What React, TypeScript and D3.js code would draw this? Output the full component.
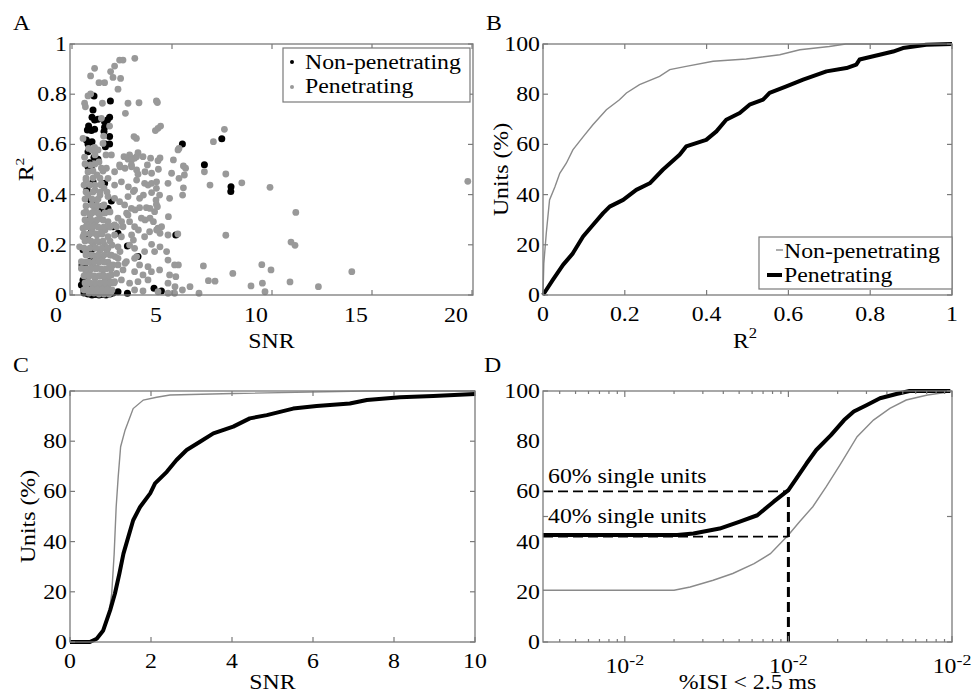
import React from "react";
import * as d3 from "d3";

const FONT = "'Liberation Serif','Times New Roman',Times,serif";
const AX = "#7a7a7a";
const GRAY_PT = "#999999";
const GRAY_LN = "#8a8a8a";

// ---------- Panel A: scatter (SNR, R^2) ----------
const nonPenScatter: [number, number][] = [
  [1.10,.793],[1.92,.773],[1.05,.737],[1.00,.708],[1.13,.697],[1.30,.700],[1.63,.690],[1.77,.697],[1.88,.708],
  [0.83,.673],[0.77,.657],[0.97,.655],[1.13,.660],[1.63,.668],[1.60,.651],[1.88,.631],[0.72,.618],[0.80,.602],
  [1.00,.611],[1.67,.602],[1.88,.602],[1.67,.591],[0.80,.571],[1.10,.549],[1.30,.541],[0.88,.527],[0.80,.511],
  [0.97,.505],[1.05,.451],[1.63,.445],[0.93,.378],[1.05,.365],[1.47,.352],[1.80,.345],[1.97,.375],[1.47,.332],
  [2.05,.272],[0.97,.252],[0.80,.239],[2.30,.246],[2.77,.195],[0.97,.179],[1.13,.153],[3.30,.153],[0.88,.133],
  [0.72,.080],[0.55,.060],[0.47,.040],[0.72,.033],[2.30,.013],[2.77,.007],[5.19,.239],[4.10,.027],[4.47,.016],
  [5.52,.602],[7.49,.623],[6.62,.519],[7.95,.431],[7.94,.412],[0.80,.004],[1.15,.002],[1.50,.002],[1.90,.004],
  [0.60,.020],[0.65,.110],[0.85,.300],[0.75,.420],
  [0.60,.008],[1.00,.000],[1.35,.000],[1.70,.000],[2.05,.008],[0.55,.180],[0.50,.120]
];

const penScatter: [number, number][] = [
  [3.14,.943],[2.38,.936],[2.55,.936],[2.13,.912],[1.13,.903],[1.93,.890],[0.93,.873],[2.05,.867],[2.43,.863],
  [1.35,.846],[1.63,.846],[2.30,.820],[0.93,.801],[0.80,.793],[1.52,.764],[2.80,.764],[3.35,.766],[4.22,.773],
  [4.27,.767],[0.63,.764],[0.67,.750],[2.67,.724],[1.47,.704],[1.88,.673],[4.43,.673],[4.30,.664],[4.17,.655],
  [0.55,.624],[3.10,.631],[3.22,.624],[1.58,.633],[1.97,.558],[0.83,.584],[1.00,.578],[1.13,.588],[1.55,.604],
  [3.30,.567],[2.60,.551],[2.88,.558],[3.13,.545],[2.80,.541],[3.55,.551],[3.93,.545],[3.77,.518],[4.30,.535],
  [2.38,.518],[0.63,.549],[0.93,.518],[1.47,.505],[5.30,.578],[4.40,.546],[3.23,.551],[2.98,.538],[2.65,.505],
  [3.23,.498],[3.65,.491],[3.98,.485],[4.32,.501],[5.07,.538],[4.98,.485],[5.57,.514],[5.68,.505],[5.62,.478],
  [5.35,.465],[5.57,.427],[5.53,.398],[6.62,.491],[7.69,.482],[6.90,.438],[8.49,.447],[9.90,.429],[11.19,.329],
  [7.62,.660],[7.07,.611],[5.29,.243],[7.69,.238],[10.95,.211],[11.15,.198],[5.32,.120],[6.57,.116],[8.04,.086],
  [9.49,.121],[9.95,.100],[6.82,.057],[7.15,.055],[8.95,.036],[9.52,.047],[9.65,.013],[10.90,.052],[12.32,.033],
  [5.90,.033],[5.52,.020],[6.35,.007],[5.19,.073],[5.15,.033],[19.79,.453],[13.99,.093],[5.35,.584],
  [1.72,.505],[2.13,.491],[2.97,.518],[3.30,.481],[1.80,.465],[1.47,.445],[2.13,.438],[2.47,.451],[3.13,.418],
  [3.63,.445],[3.80,.438],[4.22,.425],[4.80,.445],[4.38,.398],[2.80,.392],[3.38,.385],[2.13,.385],[1.80,.392],
  [2.38,.372],[4.88,.385],[1.13,.345],[1.38,.319],[1.05,.292],[2.63,.359],[2.97,.345],[3.38,.348],[3.72,.348],
  [4.22,.361],[4.13,.332],[3.47,.306],[2.80,.319],[2.30,.306],[2.55,.272],[2.13,.279],[1.80,.292],[2.88,.292],
  [3.13,.272],[4.30,.266],[4.80,.239],[3.88,.252],[3.63,.232],[0.55,.266],[0.55,.232],[0.38,.192],[1.47,.252],
  [1.80,.232],[2.13,.239],[2.47,.232],[1.63,.199],[2.30,.192],[2.88,.199],[3.13,.186],[3.63,.173],[4.13,.173],
  [4.80,.139],[5.13,.120],[1.97,.159],[2.30,.146],[2.72,.133],[3.13,.146],[3.38,.120],[3.80,.113],[3.97,.093],
  [4.38,.100],[4.88,.080],[4.80,.047],[2.30,.120],[2.55,.100],[3.13,.093],[3.55,.080],[2.47,.060],[2.88,.047],
  [3.30,.053],[3.80,.060],[1.97,.080],[2.13,.053],[1.72,.040],[3.13,.020],[3.55,.016],[4.30,.013],[4.80,.007],
  [5.13,.007],[0.47,.133],[0.47,.106],[3.15,.339],[2.73,.326],[2.48,.292],[2.23,.272],[3.65,.299],[3.32,.259],
  [2.98,.239],[3.98,.202],[4.40,.192],[4.73,.173],[3.07,.219],[2.40,.173],[2.15,.153],[3.23,.153],[2.65,.126],
  [2.23,.086],[4.48,.272],[4.40,.246],[3.90,.306],[4.07,.292],[4.23,.259],[2.82,.431],[3.07,.412],[3.57,.398],
  [3.98,.408],[4.20,.378],[4.27,.352],[3.90,.345],[4.82,.312],[3.23,.458],[3.98,.445],[4.23,.451],[2.40,.511],
  [2.98,.511],
  [0.70,.458],[0.90,.438],[1.15,.418],[1.40,.398],[0.80,.398],[1.00,.359],[1.25,.378],[1.60,.359],[0.70,.331],
  [0.90,.319],[1.15,.291],[1.55,.299],[0.75,.279],[1.00,.259],[1.25,.239],[1.65,.259],[0.80,.219],[1.05,.199],
  [1.35,.211],[1.75,.179],[0.70,.171],[0.95,.159],[1.20,.147],[1.50,.147],[1.80,.131],[0.75,.131],[1.00,.116],
  [1.25,.108],[1.55,.100],[1.85,.108],[0.70,.092],[0.90,.080],[1.15,.068],[1.40,.076],[1.65,.060],[1.90,.052],
  [0.80,.052],[1.05,.040],[1.30,.036],[1.55,.028],[1.80,.028],[0.70,.028],[0.95,.020],[1.20,.016],[1.45,.012],
  [1.70,.016],[1.95,.012],[0.85,.008],[1.10,.008],[1.35,.004],[1.60,.004],[1.85,.004],[0.80,.490],[1.05,.466],
  [1.25,.478],[0.60,.438],[1.35,.530],[1.15,.558],[1.30,.578],[1.70,.558],[1.60,.426],[1.90,.331],[2.00,.199],
  [2.05,.120],[1.40,.179],[1.15,.187],
  [0.60,.020],[0.80,.020],[1.00,.020],[1.25,.020],[1.50,.020],[1.75,.020],[2.00,.020],
  [0.65,.048],[0.90,.048],[1.15,.048],[1.40,.048],[1.65,.048],[1.90,.048],[2.10,.048],
  [0.60,.076],[0.85,.076],[1.10,.076],[1.35,.076],[1.60,.076],[1.85,.076],
  [0.70,.104],[0.95,.104],[1.20,.104],[1.45,.104],[1.70,.104],[1.95,.104],
  [0.60,.131],[0.85,.131],[1.10,.131],[1.35,.131],[1.60,.131],
  [0.70,.159],[1.00,.159],[1.30,.159],[1.60,.159],[1.90,.159],
  [0.60,.187],[0.90,.187],[1.20,.187],[1.50,.187],[1.80,.187],
  [0.65,.215],[0.95,.215],[1.25,.215],[1.55,.215],[1.90,.215],
  [0.60,.243],[0.90,.243],[1.20,.243],[1.50,.243],
  [0.70,.271],[1.00,.271],[1.30,.271],[1.60,.271],[1.90,.271],
  [0.65,.299],[0.95,.299],[1.25,.299],
  [0.60,.327],[1.00,.327],[1.30,.327],[1.65,.327],
  [0.70,.355],[1.25,.355],[1.55,.355],
  [0.65,.382],[1.00,.382],[1.30,.382],
  [0.70,.410],[1.05,.410],[1.40,.410],[1.75,.410],
  [1.15,.438],[1.45,.438],[0.70,.466],[1.40,.466],[1.05,.494],[1.55,.494],[0.65,.522],[1.15,.522]
];

const aXTicks = [0, 5, 10, 15, 20];
const aYTicks = [0, 0.2, 0.4, 0.6, 0.8, 1];

// ---------- Panel B: CDF of R^2 ----------
const bNonPenR2 = [0,0.002,0.008,0.016,0.029,0.041,0.057,0.073,0.098,0.122,0.155,0.187,0.204,0.236,0.285,0.31,0.35,0.416,0.497,0.579,0.628,0.70,0.74,1];
const bNonPenPct = [0,12.6,24.6,37.9,43,48.5,52.5,57.8,63,67.8,73.8,77.8,80.5,83.8,87.1,89.8,91.1,93.1,94,95.7,97.7,99,100,100];
const bPenR2 = [0,0.024,0.049,0.073,0.098,0.122,0.147,0.163,0.196,0.228,0.261,0.293,0.334,0.35,0.399,0.424,0.448,0.481,0.505,0.538,0.554,0.595,0.636,0.693,0.742,0.766,0.774,0.823,0.856,0.88,0.937,1];
const bPenPct = [0,6,12,16.6,23.3,27.9,32.6,35.2,37.9,41.9,44.5,49.9,55.9,59.2,61.8,65.2,69.8,72.5,75.8,77.8,80.5,83.1,85.8,89.1,90.4,91.8,93.8,95.7,97,98.4,99.7,100];
const bXTicks = [0, 0.2, 0.4, 0.6, 0.8, 1];
const pctTicks = [0, 20, 40, 60, 80, 100];

// ---------- Panel C: CDF of SNR ----------
const cNonPenSNR = [0,0.41,0.66,0.82,0.95,1.03,1.09,1.14,1.19,1.25,1.36,1.56,1.81,2.14,2.47,4.03,7.3,10];
const cNonPenPct = [0,0,1.3,4,10,19.3,35,53.8,65.8,77.8,84.4,93,96.4,97.5,98.4,99,100,100];
const cPenSNR = [0,0.49,0.66,0.82,0.99,1.11,1.22,1.32,1.44,1.56,1.73,1.98,2.1,2.39,2.63,2.88,3.21,3.54,4.03,4.44,4.86,5.51,6.09,6.91,7.33,8.15,8.97,10];
const cPenPct = [0,0,1.3,4.6,12.6,19.3,27.3,35.2,41.9,48.5,53.8,59.2,63.2,67.8,72.5,76.5,79.8,83.1,85.8,89.1,90.4,93,94,95,96.4,97.5,98,98.8];
const cXTicks = [0, 2, 4, 6, 8, 10];

// ---------- Panel D: CDF of %ISI < 2.5 ms (log axis) ----------
const dPenISI = [0.000316,0.00209,0.00263,0.0038,0.0050,0.00646,0.00813,0.0100,0.0112,0.0129,0.0148,0.0182,0.0219,0.0251,0.0302,0.0363,0.0457,0.0550,0.0977];
const dPenPct = [42.6,42.6,43.2,45.2,47.9,50.5,55.9,60.5,65.2,71.1,76.5,82.4,88.4,91.8,94.4,97.1,98.8,100,100];
const dNonPenISI = [0.000316,0.0020,0.00251,0.00347,0.00457,0.00617,0.00776,0.00891,0.0100,0.0117,0.0141,0.0170,0.0209,0.0263,0.0331,0.0417,0.0525,0.0708,0.0977];
const dNonPenPct = [20.6,20.6,21.9,24.6,27.3,31.2,35.2,39.2,42.6,47.9,53.9,61.8,71.1,81.8,88.4,93.1,96.4,98.4,99.7];
const dMajorTicks = [0.001, 0.01, 0.1];
const dTickLabelBase = "10";
const dTickLabelExp = "-2";
const dYTickMarks = [0, 50, 100];
const dThreshold = 0.01;
const dLevels = [60, 42];
const dNotes = ["60% single units", "40% single units"];

const legendNames = ["Non-penetrating", "Penetrating"];

// ---------- helpers ----------
type TxtProps = { x: number; y: number; anchor?: string; size?: number; rot?: number; sx?: number; children?: React.ReactNode };
const Txt = ({ x, y, anchor = "start", size = 20, rot = 0, sx = 1.19, children }: TxtProps) => (
  <text
    transform={`translate(${x},${y}) rotate(${rot}) scale(${sx},1)`}
    textAnchor={anchor as any}
    fontSize={size}
    fontFamily={FONT}
    fill="#000"
  >
    {children}
  </text>
);

type Frame = { x0: number; x1: number; y0: number; y1: number };

const Box = ({ f }: { f: Frame }) => (
  <rect x={f.x0} y={f.y0} width={f.x1 - f.x0} height={f.y1 - f.y0} fill="none" stroke={AX} strokeWidth={1.3} />
);

const XTickMarks = ({ f, xs, len = 5 }: { f: Frame; xs: number[]; len?: number }) => (
  <g stroke={AX} strokeWidth={1.2}>
    {xs.map((x, i) => (
      <g key={i}>
        <line x1={x} x2={x} y1={f.y1} y2={f.y1 - len} />
        <line x1={x} x2={x} y1={f.y0} y2={f.y0 + len} />
      </g>
    ))}
  </g>
);
const YTickMarks = ({ f, ys, len = 5 }: { f: Frame; ys: number[]; len?: number }) => (
  <g stroke={AX} strokeWidth={1.2}>
    {ys.map((y, i) => (
      <g key={i}>
        <line x1={f.x0} x2={f.x0 + len} y1={y} y2={y} />
        <line x1={f.x1} x2={f.x1 - len} y1={y} y2={y} />
      </g>
    ))}
  </g>
);

const fmt = (v: number) => (v === 0 ? "0" : v === 1 ? "1" : String(v));

export default function App() {
  const fA: Frame = { x0: 70, x1: 473, y0: 44, y1: 295 };
  const fB: Frame = { x0: 543, x1: 952, y0: 44, y1: 295 };
  const fC: Frame = { x0: 70, x1: 475, y0: 391, y1: 642 };
  const fD: Frame = { x0: 543, x1: 952, y0: 391, y1: 642 };

  const xA = d3.scaleLinear().domain([-0.1, 20.05]).range([fA.x0, fA.x1]);
  const yA = d3.scaleLinear().domain([0, 1]).range([fA.y1, fA.y0]);
  const xB = d3.scaleLinear().domain([0, 1]).range([fB.x0, fB.x1]);
  const yB = d3.scaleLinear().domain([0, 100]).range([fB.y1, fB.y0]);
  const xC = d3.scaleLinear().domain([0, 10]).range([fC.x0, fC.x1]);
  const yC = d3.scaleLinear().domain([0, 100]).range([fC.y1, fC.y0]);
  const xD = d3.scaleLog().domain([Math.pow(10, -3.5), 0.1]).range([fD.x0, fD.x1]);
  const yD = d3.scaleLinear().domain([0, 100]).range([fD.y1, fD.y0]);

  const mkLine = (xs: any, ys: any, xv: number[], yv: number[]) =>
    d3.line<number>().x((_, i) => xs(xv[i])).y((_, i) => ys(yv[i]))(xv) || "";

  const dMinor = xD.ticks().filter((t) => !dMajorTicks.some((m) => Math.abs(m - t) / m < 1e-6));

  const labelOffsetA = -16;

  return (
    <svg width={976} height={693} style={{ position: "absolute", left: 0, top: 0, background: "#fff" }}>
      <rect x={0} y={0} width={976} height={693} fill="#fff" />

      {/* ============ Panel A ============ */}
      <Txt x={13} y={30}>A</Txt>
      <g>
        {nonPenScatter.map((p, i) => (
          <circle key={"n" + i} cx={xA(p[0])} cy={yA(p[1])} r={3.5} fill="#000" />
        ))}
        {penScatter.map((p, i) => (
          <circle key={"p" + i} cx={xA(p[0])} cy={yA(p[1])} r={3.4} fill={GRAY_PT} />
        ))}
      </g>
      <Box f={fA} />
      <XTickMarks f={fA} xs={aXTicks.map((t) => xA(t))} />
      <YTickMarks f={fA} ys={aYTicks.map((t) => yA(t))} />
      {aXTicks.map((t) => (
        <Txt key={t} x={xA(t) + labelOffsetA} y={fA.y1 + 27} anchor="middle">{fmt(t)}</Txt>
      ))}
      {aYTicks.map((t) => (
        <Txt key={t} x={fA.x0 - 3} y={yA(t) + 7} anchor="end">{fmt(t)}</Txt>
      ))}
      <Txt x={(fA.x0 + fA.x1) / 2} y={348} anchor="middle">SNR</Txt>
      <Txt x={33} y={(fA.y0 + fA.y1) / 2} anchor="middle" rot={-90}>
        R<tspan fontSize={13} dy={-9}>2</tspan>
      </Txt>
      <rect x={283} y={48} width={187} height={54} fill="#fff" stroke={AX} strokeWidth={1.2} />
      <circle cx={292} cy={62} r={2} fill="#000" />
      <circle cx={292} cy={87} r={2} fill={GRAY_PT} />
      <Txt x={305} y={69}>{legendNames[0]}</Txt>
      <Txt x={305} y={93}>{legendNames[1]}</Txt>

      {/* ============ Panel B ============ */}
      <Txt x={486} y={30}>B</Txt>
      <path d={mkLine(xB, yB, bNonPenR2, bNonPenPct)} fill="none" stroke={GRAY_LN} strokeWidth={1.4} />
      <path d={mkLine(xB, yB, bPenR2, bPenPct)} fill="none" stroke="#000" strokeWidth={4} strokeLinejoin="round" />
      <Box f={fB} />
      <XTickMarks f={fB} xs={bXTicks.map((t) => xB(t))} />
      <YTickMarks f={fB} ys={pctTicks.map((t) => yB(t))} />
      {bXTicks.map((t) => (
        <Txt key={t} x={xB(t)} y={fB.y1 + 26} anchor="middle">{fmt(t)}</Txt>
      ))}
      {pctTicks.map((t) => (
        <Txt key={t} x={fB.x0 - 3} y={yB(t) + 7} anchor="end">{fmt(t)}</Txt>
      ))}
      <Txt x={745} y={348} anchor="middle">
        R<tspan fontSize={14} dy={-10}>2</tspan>
      </Txt>
      <Txt x={508} y={(fB.y0 + fB.y1) / 2} anchor="middle" rot={-90}>Units (%)</Txt>
      <rect x={759} y={237} width={193} height={52} fill="#fff" stroke={AX} strokeWidth={1.2} />
      <line x1={776} x2={783} y1={250} y2={250} stroke={GRAY_LN} strokeWidth={1.4} />
      <line x1={767} x2={782} y1={275} y2={275} stroke="#000" strokeWidth={4} />
      <Txt x={784} y={258}>{legendNames[0]}</Txt>
      <Txt x={784} y={282}>{legendNames[1]}</Txt>

      {/* ============ Panel C ============ */}
      <Txt x={13} y={372}>C</Txt>
      <path d={mkLine(xC, yC, cNonPenSNR, cNonPenPct)} fill="none" stroke={GRAY_LN} strokeWidth={1.4} />
      <path d={mkLine(xC, yC, cPenSNR, cPenPct)} fill="none" stroke="#000" strokeWidth={4} strokeLinejoin="round" />
      <Box f={fC} />
      <XTickMarks f={fC} xs={cXTicks.map((t) => xC(t))} />
      <YTickMarks f={fC} ys={pctTicks.map((t) => yC(t))} />
      {cXTicks.map((t) => (
        <Txt key={t} x={xC(t)} y={fC.y1 + 26} anchor="middle">{fmt(t)}</Txt>
      ))}
      {pctTicks.map((t) => (
        <Txt key={t} x={fC.x0 - 3} y={yC(t) + 7} anchor="end">{fmt(t)}</Txt>
      ))}
      <Txt x={(fC.x0 + fC.x1) / 2} y={689} anchor="middle">SNR</Txt>
      <Txt x={35} y={(fC.y0 + fC.y1) / 2} anchor="middle" rot={-90}>Units (%)</Txt>

      {/* ============ Panel D ============ */}
      <Txt x={484} y={372}>D</Txt>
      <path d={mkLine(xD, yD, dNonPenISI, dNonPenPct)} fill="none" stroke={GRAY_LN} strokeWidth={1.4} />
      <path d={mkLine(xD, yD, dPenISI, dPenPct)} fill="none" stroke="#000" strokeWidth={4} strokeLinejoin="round" />
      {dLevels.map((lv, i) => (
        <line key={i} x1={fD.x0} x2={xD(dThreshold)} y1={yD(lv)} y2={yD(lv)} stroke="#000" strokeWidth={1.8} strokeDasharray="10,5" />
      ))}
      <line x1={xD(dThreshold)} x2={xD(dThreshold)} y1={yD(0)} y2={yD(dLevels[0])} stroke="#000" strokeWidth={3} strokeDasharray="10,5" />
      <Box f={fD} />
      <XTickMarks f={fD} xs={dMajorTicks.map((t) => xD(t))} len={6} />
      <XTickMarks f={fD} xs={dMinor.map((t) => xD(t))} len={3} />
      <YTickMarks f={fD} ys={dYTickMarks.map((t) => yD(t))} />
      {dMajorTicks.map((t) => (
        <Txt key={t} x={xD(t)} y={fD.y1 + 31} anchor="middle">
          {dTickLabelBase}
          <tspan fontSize={15} dy={-8}>{dTickLabelExp}</tspan>
        </Txt>
      ))}
      {pctTicks.map((t) => (
        <Txt key={t} x={fD.x0 - 3} y={yD(t) + 7} anchor="end">{fmt(t)}</Txt>
      ))}
      <Txt x={(fD.x0 + fD.x1) / 2} y={689} anchor="middle">%ISI &lt; 2.5 ms</Txt>
      <Txt x={548} y={483}>{dNotes[0]}</Txt>
      <Txt x={548} y={523}>{dNotes[1]}</Txt>
    </svg>
  );
}
